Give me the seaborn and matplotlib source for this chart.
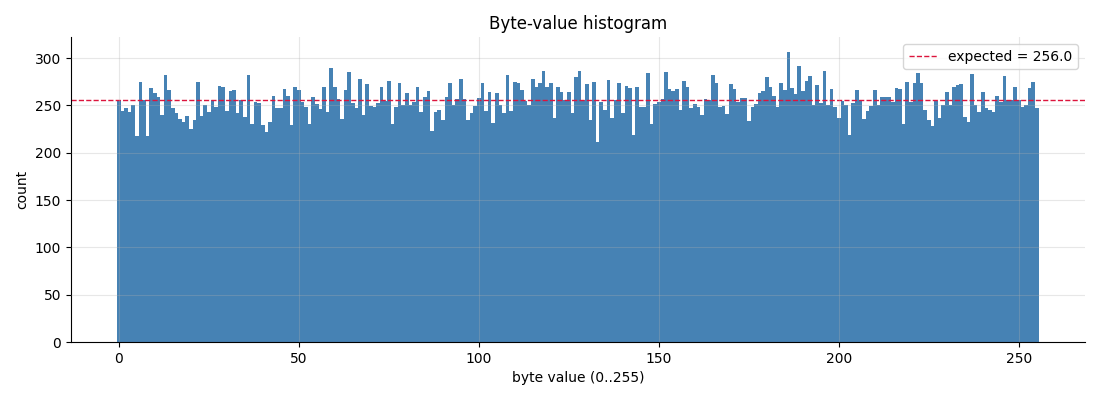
import numpy as np
import pandas as pd
import matplotlib
matplotlib.use("Agg")
import matplotlib.pyplot as plt
import seaborn as sns

byte_values = list(range(256))
counts = [
    256, 244, 247, 243, 251, 218, 275, 256, 218, 268,
    263, 259, 240, 282, 266, 247, 242, 236, 232, 239,
    225, 235, 275, 239, 251, 243, 256, 248, 271, 270,
    244, 265, 266, 242, 256, 238, 282, 230, 254, 253,
    229, 222, 233, 260, 247, 247, 267, 260, 229, 269,
    266, 254, 248, 230, 259, 252, 246, 270, 243, 290,
    269, 257, 236, 266, 285, 253, 247, 278, 240, 273,
    249, 248, 253, 270, 255, 276, 230, 248, 274, 250,
    263, 250, 254, 270, 243, 259, 265, 223, 243, 245,
    235, 259, 274, 251, 257, 278, 257, 235, 242, 249,
    258, 274, 244, 264, 231, 263, 250, 242, 282, 244,
    275, 274, 266, 255, 251, 278, 270, 274, 286, 270,
    274, 237, 270, 264, 256, 264, 242, 280, 286, 256,
    273, 235, 275, 211, 254, 245, 277, 237, 256, 274,
    242, 271, 268, 219, 269, 248, 248, 284, 230, 252,
    254, 257, 285, 267, 265, 267, 245, 276, 270, 247,
    252, 248, 240, 257, 256, 282, 274, 248, 249, 241,
    273, 267, 254, 258, 258, 234, 248, 252, 263, 265,
    280, 270, 260, 248, 274, 266, 307, 268, 262, 292,
    265, 276, 281, 251, 272, 253, 286, 250, 267, 248,
    237, 255, 251, 219, 253, 266, 256, 236, 244, 249,
    266, 250, 259, 259, 259, 254, 268, 267, 230, 275,
    254, 274, 284, 274, 245, 235, 228, 255, 237, 251,
    264, 250, 270, 272, 273, 238, 233, 283, 250, 243,
    264, 247, 245, 243, 260, 254, 281, 256, 256, 270,
    256, 248, 251, 268, 275, 247,
]
expected = 256.0

df = pd.DataFrame({"byte": byte_values, "count": counts})

fig, ax = plt.subplots(figsize=(11, 4), dpi=100)
sns.histplot(data=df, x="byte", weights="count", discrete=True,
             color="steelblue", alpha=1.0, linewidth=0, ax=ax)
ax.axhline(expected, color="crimson", linestyle="--", linewidth=1.0,
           label=f"expected = {expected}")
ax.set_title("Byte-value histogram")
ax.set_xlabel("byte value (0..255)")
ax.set_ylabel("count")
ax.grid(True, alpha=0.3)
ax.set_axisbelow(False)
sns.despine(ax=ax)
ax.legend(loc="upper right")
fig.subplots_adjust(left=0.0645, right=0.986, bottom=0.145, top=0.9075)
fig.savefig("out.png", dpi=100)
